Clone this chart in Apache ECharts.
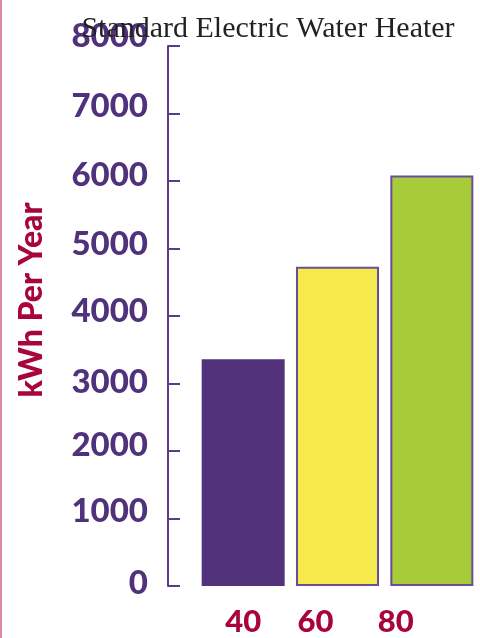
<!DOCTYPE html>
<html><head><meta charset="utf-8">
<script src="https://cdn.jsdelivr.net/npm/echarts@6/dist/echarts.min.js"></script>
<style>html,body{margin:0;padding:0;background:#fff}#c{width:480px;height:638px}</style>
</head><body><div id="c"></div>
<script>
const categories = ['40', '60', '80'];
const values = [3360, 4730, 6080];
const barColors = ['#52327B', '#F5E94B', '#A7CC3A'];
const yTicks = [0, 1000, 2000, 3000, 4000, 5000, 6000, 7000, 8000];
const titleText = 'Standard Electric Water Heater';
const yName = 'kWh Per Year';

const chart = echarts.init(document.getElementById('c'), null, {renderer: 'canvas'});
const labelShift = {'40': 0, '60': 44, '80': 72};
const yLift = [2.5, 7.5, 5.5, 1.5, 4.5, 4.5, 5.5, 7.5, 9.5];
const xl = s => ({fontFamily: 'Lato', fontWeight: 900, fontSize: 31, color: '#A8063A', padding: [0, s, 0, 0]});
const yRich = {};
yTicks.forEach((t, i) => {
  yRich['y' + i] = {fontFamily: 'Lato', fontWeight: 900, fontSize: 33, color: '#50317C', padding: [0, 0, yLift[i] * 2, 0]};
});
chart.setOption({
  animation: false,
  backgroundColor: '#fff',
  title: {
    text: titleText, left: 263, textAlign: 'center', top: 9, z: 10, zlevel: 1,
    textStyle: {fontFamily: 'Liberation Serif', fontWeight: 'normal', fontSize: 30, color: '#222'}
  },
  graphic: [{type: 'rect', shape: {x: 0, y: 0, width: 2, height: 638}, style: {fill: '#D98AA8'}}],
  grid: {left: 196, right: 1, top: 46, bottom: 52},
  xAxis: {
    type: 'category', data: categories,
    axisLine: {show: false}, axisTick: {show: false},
    axisLabel: {
      margin: 20,
      formatter: v => '{a' + v + '|' + v + '}',
      rich: {a40: xl(labelShift['40']), a60: xl(labelShift['60']), a80: xl(labelShift['80'])}
    }
  },
  yAxis: {
    type: 'value', min: yTicks[0], max: yTicks[yTicks.length - 1], interval: 1000, offset: 28,
    name: yName, nameLocation: 'middle', nameRotate: 90, nameGap: 120,
    nameTextStyle: {fontFamily: 'Lato', fontWeight: 900, fontSize: 32, color: '#A8063A', padding: [0, 0, 0, 32]},
    axisLine: {show: true, lineStyle: {color: '#5B3A8E', width: 2}},
    axisTick: {show: true, inside: true, length: 12, lineStyle: {color: '#5B3A8E', width: 2}},
    splitLine: {show: false},
    axisLabel: {
      margin: 20, verticalAlign: 'middle',
      formatter: v => '{y' + yTicks.indexOf(v) + '|' + v + '}',
      rich: yRich
    }
  },
  series: [{
    type: 'bar', barWidth: 83,
    data: values.map((v, i) => ({
      value: v,
      itemStyle: {color: barColors[i], borderColor: i === 0 ? barColors[0] : '#6B4C9A', borderWidth: i === 0 ? 0 : 2}
    }))
  }]
});
</script></body></html>
